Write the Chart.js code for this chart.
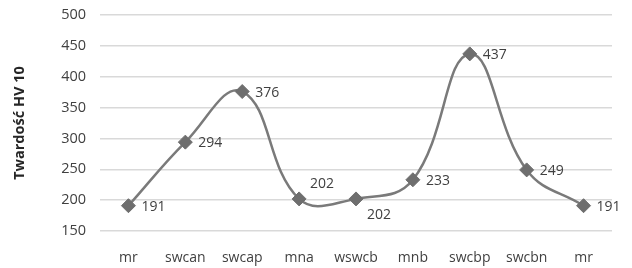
<!DOCTYPE html>
<html><head><meta charset="utf-8">
<script src="https://cdn.jsdelivr.net/npm/chart.js@4/dist/chart.umd.min.js"></script>
<style>html,body{margin:0;padding:0;background:#fff}#wrap{width:632px;height:268px}</style>
</head><body><div id="wrap"><canvas id="c" width="632" height="268"></canvas></div>
<script>
const categories = ['mr','swcan','swcap','mna','wswcb','mnb','swcbp','swcbn','mr'];
const hardness = [191, 294, 376, 202, 202, 233, 437, 249, 191];
const yTicks = [150, 200, 250, 300, 350, 400, 450, 500];
const labelPlacement = ['right','right','right','above','below','right','right','right','right'];

const FONT = "'Open Sans', 'Liberation Sans', sans-serif";
const TXT = '#404040';

const valueLabels = {
  id: 'valueLabels',
  afterDatasetsDraw(chart) {
    const ctx = chart.ctx;
    const meta = chart.getDatasetMeta(0);
    ctx.save();
    ctx.font = '14px ' + FONT;
    ctx.fillStyle = TXT;
    ctx.textBaseline = 'middle';
    ctx.textAlign = 'left';
    meta.data.forEach((pt, i) => {
      const p = labelPlacement[i];
      let x = pt.x + 13, y = pt.y + 1;
      if (p === 'above') { x = pt.x + 11; y = pt.y - 15; }
      if (p === 'below') { x = pt.x + 11; y = pt.y + 16; }
      ctx.fillText(String(hardness[i]), x, y);
    });
    ctx.restore();
  }
};

new Chart(document.getElementById('c'), {
  type: 'line',
  data: {
    labels: categories,
    datasets: [{
      data: hardness,
      borderColor: '#7a7a7a',
      borderWidth: 2.5,
      tension: 0.42,
      pointStyle: 'rectRot',
      pointRadius: 7,
      pointBackgroundColor: '#6e6e6e',
      pointBorderColor: '#6e6e6e',
      pointBorderWidth: 1,
      fill: false
    }]
  },
  options: {
    responsive: false,
    animation: false,
    devicePixelRatio: 1,
    layout: { autoPadding: false, padding: { left: 0, right: 20, top: 15, bottom: 0 } },
    plugins: { legend: { display: false }, tooltip: { enabled: false } },
    scales: {
      x: {
        offset: true,
        grid: { display: false, drawTicks: false },
        border: { display: false },
        ticks: { color: TXT, font: { family: FONT, size: 14 }, padding: 19, maxRotation: 0, autoSkip: false },
        afterFit(s) { s.height = 37; s.paddingLeft = 0; s.paddingRight = 0; }
      },
      y: {
        min: 150, max: 500,
        afterBuildTicks(s) { s.ticks = yTicks.map(v => ({ value: v })); },
        grid: { color: '#d9d9d9', lineWidth: 1.5, drawTicks: false },
        border: { display: false },
        ticks: { color: TXT, font: { family: FONT, size: 14.5 }, padding: 14 },
        title: { display: true, text: 'Twardość HV 10', color: '#262626', font: { family: FONT, size: 14.5, weight: 'bold' }, padding: { top: 11, bottom: 12 } },
        afterFit(s) { s.width = 100; s.paddingTop = 0; s.paddingBottom = 0; }
      }
    }
  },
  plugins: [valueLabels]
});
</script></body></html>
